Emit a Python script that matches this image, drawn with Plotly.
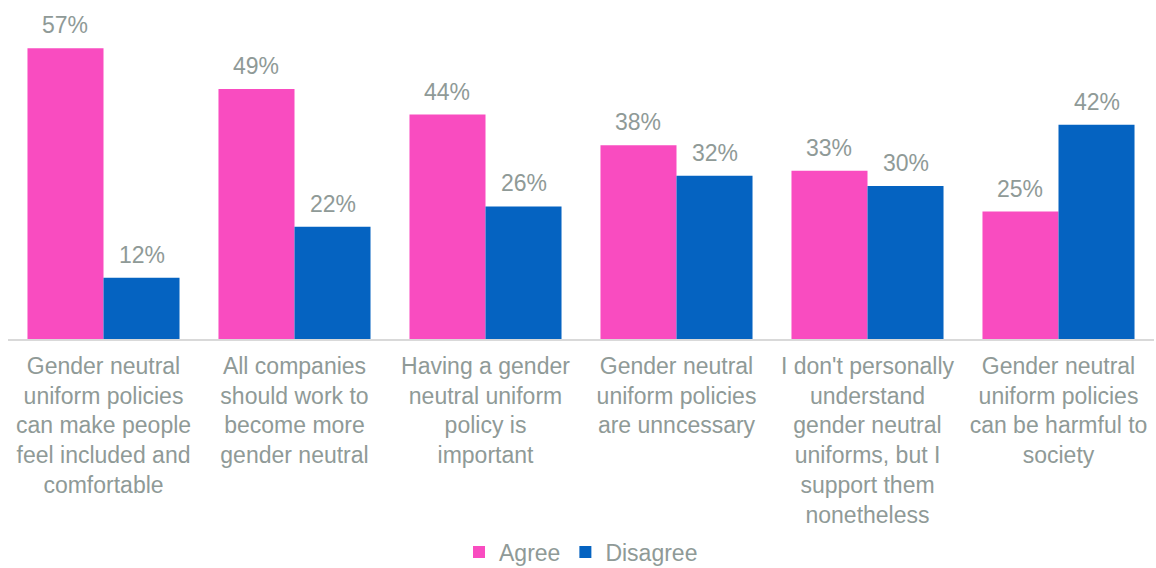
import plotly.graph_objects as go

categories = [
    "Gender neutral<br>uniform policies<br>can make people<br>feel included and<br>comfortable",
    "All companies<br>should work to<br>become more<br>gender neutral",
    "Having a gender<br>neutral uniform<br>policy is<br>important",
    "Gender neutral<br>uniform policies<br>are unncessary",
    "I don't personally<br>understand<br>gender neutral<br>uniforms, but I<br>support them<br>nonetheless",
    "Gender neutral<br>uniform policies<br>can be harmful to<br>society",
]
agree = [57, 49, 44, 38, 33, 25]
disagree = [12, 22, 26, 32, 30, 42]

PINK = "#F94CC0"
BLUE = "#0563C1"
GRAY = "#8F9A97"
FONT = "Liberation Sans, Arial, sans-serif"
BARGAP = 0.204

xs = list(range(len(categories)))
series = [("Agree", agree, PINK), ("Disagree", disagree, BLUE)]

fig = go.Figure()
for name, vals, color in series:
    fig.add_trace(go.Bar(
        name=name,
        x=xs,
        y=vals,
        marker=dict(color=color, line=dict(width=0)),
        hovertemplate="%{y}%<extra>" + name + "</extra>",
    ))

# value labels above each bar, centred on the bar within its group
bar_w = (1 - BARGAP) / len(series)
for k, (name, vals, color) in enumerate(series):
    offset = -(1 - BARGAP) / 2 + bar_w * (k + 0.5)
    for i, v in zip(xs, vals):
        fig.add_annotation(
            x=i + offset, y=v, xref="x", yref="y",
            text=f"{v}%", showarrow=False,
            yanchor="bottom", yshift=8,
            font=dict(size=23, color=GRAY, family=FONT),
        )

fig.update_layout(
    width=1156,
    height=568,
    barmode="group",
    bargap=BARGAP,
    bargroupgap=0,
    plot_bgcolor="white",
    paper_bgcolor="white",
    margin=dict(l=8, r=2, t=33, b=229, autoexpand=False),
    font=dict(family=FONT, color=GRAY, size=23),
    showlegend=True,
    legend=dict(
        orientation="h",
        x=0.5, xanchor="center",
        yref="container", y=0.028, yanchor="middle",
        font=dict(size=23, color=GRAY, family=FONT),
        itemwidth=30,
        traceorder="normal",
    ),
    xaxis=dict(
        tickmode="array",
        tickvals=xs,
        ticktext=categories,
        tickfont=dict(size=23, color=GRAY, family=FONT),
        ticklabelstandoff=5,
        automargin=False,
        showline=True,
        linecolor="#D9D9D9",
        linewidth=2,
        ticks="",
        showgrid=False,
        range=[-0.5, len(categories) - 0.5],
    ),
    yaxis=dict(
        range=[0, 60],
        visible=False,
        showgrid=False,
        zeroline=False,
    ),
)

fig.write_html("out.html")
